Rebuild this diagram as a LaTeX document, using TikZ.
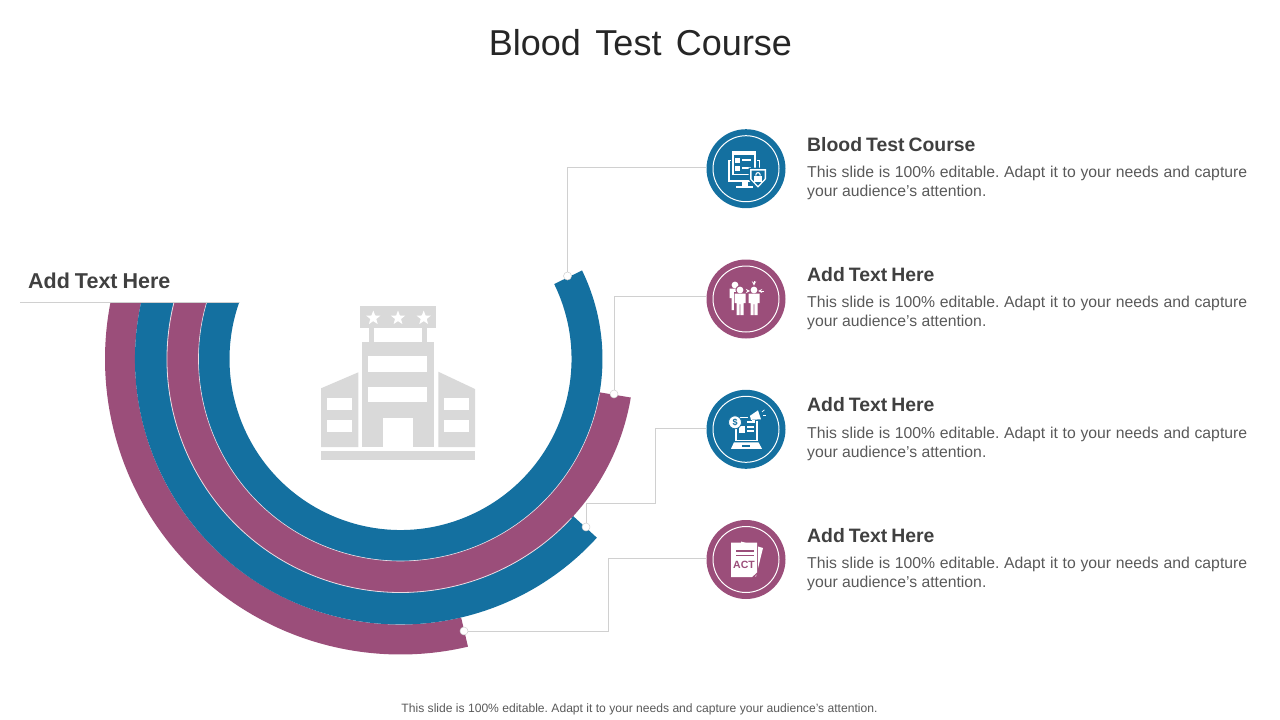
\documentclass[tikz,border=0pt]{standalone}
\usepackage{fontspec}
\setmainfont{Liberation Sans}
\usetikzlibrary{shapes.geometric}

\definecolor{ringblue}{RGB}{20,112,160}
\definecolor{ringplum}{RGB}{155,78,122}
\definecolor{linegrey}{RGB}{208,208,208}
\definecolor{hotelgrey}{RGB}{217,217,217}
\definecolor{headink}{RGB}{64,64,64}
\definecolor{bodyink}{RGB}{89,89,89}

\newcommand{\bodytext}{\frenchspacing This slide is 100\% editable. Adapt it to your needs and capture your audience's attention.}
\newcommand{\addhead}[1]{Add\hspace{#1}Text\hspace{#1}Here}
% one band: colour, outer radius, inner radius, end angle
\newcommand{\ringband}[4]{
  \fill[#1] ({180-asin(57/#2)}:#2) arc[start angle={180-asin(57/#2)},end angle=#4,radius=#2]
    -- (#4:#3) arc[start angle=#4,end angle={180-asin(57/#3)},radius=#3] -- cycle;
}

\tikzset{
  badge/.style={circle,minimum size=79pt,inner sep=0pt,text width=0pt},
  badgering/.style={draw=white,line width=1pt,fill=none},
  enddot/.style={circle,draw=linegrey,fill=white,line width=0.5pt,minimum size=8pt,inner sep=0pt},
  wire/.style={draw=linegrey,line width=0.9pt},
  headtext/.style={anchor=base west,inner sep=0pt,text=headink,font=\fontsize{19.4}{22}\selectfont\bfseries},
  bodybox/.style={anchor=north west,inner sep=0pt,text=bodyink,text width=440pt,align=justify,font=\fontsize{15.75}{19.5}\selectfont},
  person/.pic={
    \fill (0,0) circle (3.4);
    \fill (-5.5,3.6) -- (5.5,3.6) -- (5.5,13) -- (3.5,13) -- (3.5,25) -- (0.4,25) -- (0.4,14)
      -- (-0.4,14) -- (-0.4,25) -- (-3.5,25) -- (-3.5,13) -- (-5.5,13) -- cycle;
  }
}

\begin{document}
\begin{tikzpicture}[x=1pt,y=-1pt]
  \useasboundingbox (0,0) rectangle (1280,720);

  \node[inner sep=0pt,text=black!85,font=\fontsize{36}{40}\selectfont] (title) at (640.5,43) {Blood\hspace{14.5pt}Test\hspace{14.5pt}Course};
  \node[inner sep=0pt,text=bodyink,font=\fontsize{12.1}{14}\selectfont] (foot) at (639.5,709.5) {\bodytext};

  % bands
  \begin{scope}[shift={(400.5,359)},y=1pt]
    \ringband{ringplum}{295.5}{265.5}{283.2}
    \ringband{ringblue}{265.5}{233.5}{317.7}
    \ringband{ringplum}{233.5}{202}{350.5}
    \ringband{ringblue}{202}{171}{386}
    \draw[white!80!ringplum,line width=0.8pt] ({180-asin(57/233.5)}:233.5) arc[start angle={180-asin(57/233.5)},end angle=317,radius=233.5];
    \draw[white!80!ringplum,line width=0.6pt] ({180-asin(57/202)}:202) arc[start angle={180-asin(57/202)},end angle=350,radius=202];
  \end{scope}

  \node[headtext,font=\fontsize{21.5}{24}\selectfont\bfseries] (lefthead) at (28,288) {\addhead{5pt}};
  \coordinate (ruleL) at (20,302);
  \coordinate (ruleR) at (239,302);
  \draw[wire] (ruleL) -- (ruleR);

  % hotel
  \fill[hotelgrey] (360,306) rectangle (436,327.7);
  \fill[hotelgrey] (368.7,327.7) rectangle (374,342);
  \fill[hotelgrey] (421.7,327.7) rectangle (426.7,342);
  \fill[hotelgrey] (361.7,341.7) rectangle (434.3,447);
  \fill[hotelgrey] (321,388.3) -- (358.3,372.3) -- (358.3,447) -- (321,447) -- cycle;
  \fill[hotelgrey] (438.3,371.7) -- (475,389) -- (475,447) -- (438.3,447) -- cycle;
  \fill[hotelgrey] (321,450.7) rectangle (475,460);
  \fill[white] (368.3,356.3) rectangle (427.3,371.7);
  \fill[white] (368.3,387.3) rectangle (427.3,402.3);
  \fill[white] (383.3,418.3) rectangle (412.7,447);
  \fill[white] (326.7,397.7) rectangle (352.3,410.3);
  \fill[white] (326.7,420) rectangle (352.3,432);
  \fill[white] (443.7,397.7) rectangle (469.3,410.3);
  \fill[white] (443.7,420) rectangle (469.3,432);
  \node[star,star points=5,star point ratio=2.4,fill=white,minimum size=15pt,inner sep=0pt] (star1) at (373.3,318) {};
  \node[star,star points=5,star point ratio=2.4,fill=white,minimum size=15pt,inner sep=0pt] (star2) at (398,318) {};
  \node[star,star points=5,star point ratio=2.4,fill=white,minimum size=15pt,inner sep=0pt] (star3) at (423.7,318) {};

  % badges
  \node[badge,fill=ringblue] (B1) at (746,168.7) {};
  \node[badge,fill=ringplum] (B2) at (746,299) {};
  \node[badge,fill=ringblue] (B3) at (746,429.3) {};
  \node[badge,fill=ringplum] (B4) at (746,559.5) {};
  \draw[badgering] (B1) circle (33);
  \draw[badgering] (B2) circle (33);
  \draw[badgering] (B3) circle (33);
  \draw[badgering] (B4) circle (33);

  \node[enddot] (D1) at (567.5,276) {};
  \node[enddot] (D2) at (614,394) {};
  \node[enddot] (D3) at (586,527) {};
  \node[enddot] (D4) at (464,631) {};

  \coordinate (K3a) at (655,503);
  \coordinate (K4a) at (608,631);

  \draw[wire] (D1) |- ([yshift=1pt]B1.west);
  \draw[wire] (D2) |- ([yshift=3pt]B2.west);
  \draw[wire] (D3) |- (K3a) |- ([yshift=1pt]B3.west);
  \draw[wire] (D4) -- (K4a) |- ([yshift=1pt]B4.west);

  % icon 1
  \begin{scope}[shift={(B1)}]
    \fill[white] (-18,-9) rectangle (14,13);
    \fill[ringblue] (-16.5,-7.5) rectangle (12.5,11.5);
    \fill[white] (-4,13) rectangle (2,17);
    \fill[white] (-10,17) rectangle (7,19);
    \fill[ringblue] (-15,-19) rectangle (10.5,7.5);
    \fill[white] (-14,-18) rectangle (9.5,6.5);
    \fill[ringblue] (-12.5,-13.5) rectangle (8,5);
    \fill[white] (-11,-10.5) rectangle (-6.5,-6);
    \fill[white] (-11,-2.5) rectangle (-6.5,2);
    \fill[white] (-4,-9.5) rectangle (5,-8.2);
    \fill[white] (-4,-1.5) rectangle (5,-0.2);
    \fill[ringblue] (2.5,-1) -- (21.5,-1) -- (21.5,11) -- (12,21) -- (2.5,11) -- cycle;
    \fill[white] (4,0.5) -- (20,0.5) -- (20,10.5) -- (12,19) -- (4,10.5) -- cycle;
    \fill[ringblue] (5.5,2) -- (18.5,2) -- (18.5,10) -- (12,17) -- (5.5,10) -- cycle;
    \fill[white] (8.3,7) rectangle (15.7,13);
    \draw[white,line width=1.1pt] (9.9,7) -- (9.9,6) arc[start angle=180,end angle=360,radius=2.1] -- (14.1,7);
  \end{scope}

  % icon 2
  \begin{scope}[shift={(B2)},white]
    \pic at (-11,-14) {person};
    \fill[ringplum] (-6,-9) circle (4.6);
    \fill[ringplum] (-12.2,-6.8) rectangle (0.2,17);
    \pic at (-6,-9) {person};
    \pic at (8,-9) {person};
    \draw[-stealth,line width=0.9pt] (8,-18) -- (8,-13.4);
    \draw[-stealth,line width=0.9pt] (0.5,-8) -- (4,-8);
    \draw[-stealth,line width=0.9pt] (17.5,-8) -- (12,-8);
  \end{scope}

  % icon 3
  \begin{scope}[shift={(B3)}]
    \draw[white,line width=1.3pt] (-10,-12) rectangle (11,11);
    \fill[white] (-7,-3) rectangle (-1,4);
    \fill[white] (1,-8) rectangle (9,-6.5);
    \fill[white] (1,-3) rectangle (8,-1.5);
    \fill[white] (1,1) rectangle (8,2.5);
    \fill[white] (-15,19.5) -- (-12,13) -- (12.5,13) -- (16,19.5) -- cycle;
    \fill[ringblue] (-4,15.5) rectangle (4,18);
    \node[circle,fill=white,draw=ringblue,line width=0.8pt,minimum size=13pt,inner sep=0pt,text=ringblue,font=\fontsize{9}{9}\selectfont\bfseries] (coin) at (-11,-7) {\$};
    % megaphone
    \fill[ringblue] (2,-15) rectangle (16,-8);
    \fill[white] (4,-13.5) -- (12,-19) -- (15,-10) -- (5,-9.5) -- cycle;
    \fill[white] (6,-9.5) rectangle (9,-7);
    \draw[white,line width=0.7pt] (16,-17.5) -- (18.5,-19.5);
    \draw[white,line width=0.7pt] (17,-14) -- (20,-14);
  \end{scope}

  % icon 4
  \begin{scope}[shift={(B4)}]
    \fill[white] (-5,-18) -- (17,-11.5) -- (10,17) -- (-5,13) -- cycle;
    \fill[ringplum] (-5.5,-16.5) -- (11.8,-16.5) -- (11.8,14) -- (7,18.5) -- (-5.5,18.5) -- cycle;
    \fill[white] (-15,-17) -- (11,-17) -- (11,13) -- (6,17.5) -- (-15,17.5) -- cycle;
    \fill[ringplum] (-10,-9.2) rectangle (8,-7.8);
    \fill[ringplum] (-10,-5) rectangle (8,-3.6);
    \node[inner sep=0pt,text=ringplum,font=\fontsize{10.5}{11}\selectfont\bfseries] (acttext) at (-2,5.5) {ACT};
  \end{scope}

  % right column
  \node[headtext] (H1) at (807,151.5) {Blood\hspace{4pt}Test\hspace{4pt}Course};
  \node[bodybox] (T1) at (807,165.5) {\bodytext};
  \node[headtext] (H2) at (807,281.5) {\addhead{4pt}};
  \node[bodybox] (T2) at (807,295.5) {\bodytext};
  \node[headtext] (H3) at (807,411.5) {\addhead{4pt}};
  \node[bodybox] (T3) at (807,426.5) {\bodytext};
  \node[headtext] (H4) at (807,542.5) {\addhead{4pt}};
  \node[bodybox] (T4) at (807,556.5) {\bodytext};
\end{tikzpicture}
\end{document}
